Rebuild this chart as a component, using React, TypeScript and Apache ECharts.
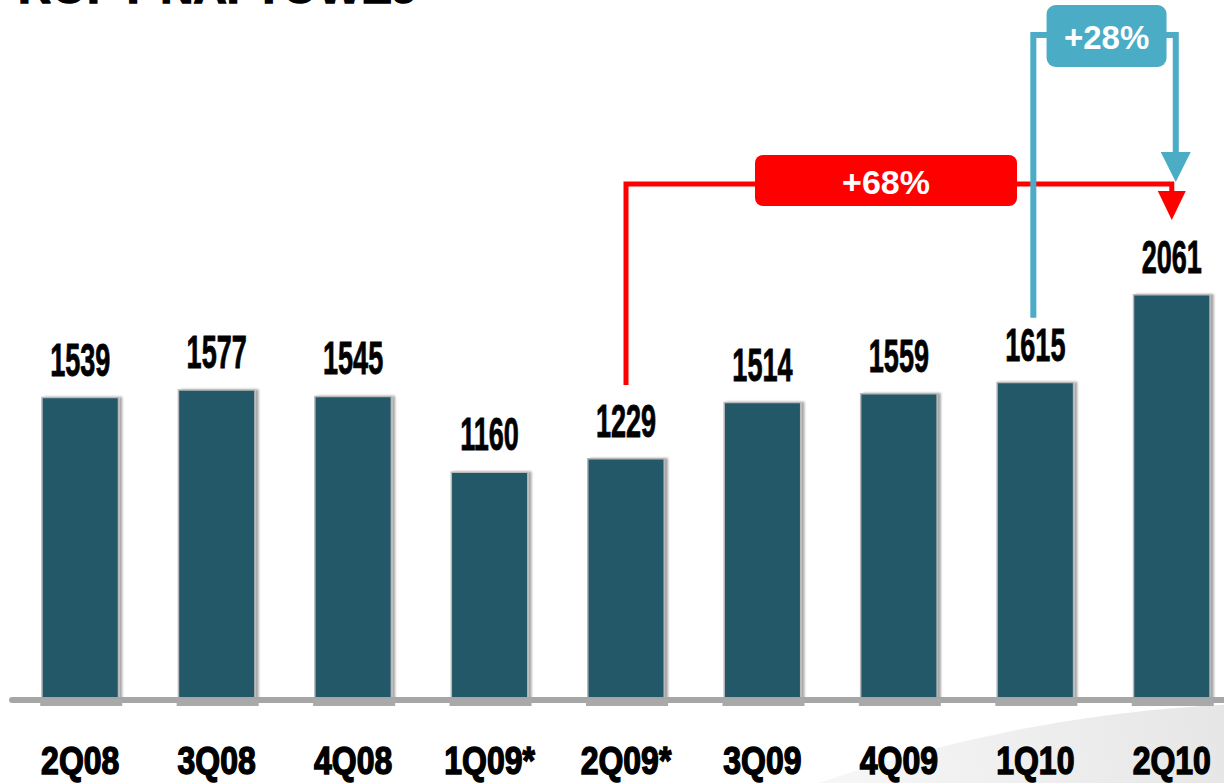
import React, { useEffect, useRef } from "react";
import * as echarts from "echarts";

const categories = ["2Q08", "3Q08", "4Q08", "1Q09*", "2Q09*", "3Q09", "4Q09", "1Q10", "2Q10"];
const values = [1539, 1577, 1545, 1160, 1229, 1514, 1559, 1615, 2061];
const titleText = "ROPY NAFTOWEJ";
const redLabel = "+68%";
const blueLabel = "+28%";
const redFrom = 4;
const blueFrom = 7;
const toIdx = 8;

const RED = "#ff0000";
const BLUE = "#4bacc6";
const BAR = "#225868";

export default function App() {
  const ref = useRef<HTMLDivElement>(null);
  useEffect(() => {
    const chart = echarts.init(ref.current!, null, { renderer: "svg" });
    chart.setOption({
      animation: false,
      backgroundColor: "#ffffff",
      grid: { left: 12, right: 0, top: 109, height: 591, containLabel: false },
      xAxis: {
        type: "category",
        data: categories,
        axisTick: { show: false },
        axisLine: { show: true, lineStyle: { color: "#a6a6a6", width: 6 } },
        axisLabel: { show: false },
        z: 3,
      },
      yAxis: { type: "value", min: 0, max: 3000, show: false, splitLine: { show: false } },
      series: [
        {
          type: "bar",
          data: values,
          barWidth: 78,
          z: 2,
          itemStyle: {
            color: BAR,
            borderColor: "#b8b8b8",
            borderWidth: 1.5,
            shadowColor: "rgba(0,0,0,0.35)",
            shadowOffsetX: 3,
            shadowBlur: 2,
          },
        },
        {
          type: "custom",
          data: values.map((v, i) => [i, 0]),
          z: 4,
          renderItem: (params: any, api: any) => {
            const p = api.coord([api.value(0), 0]);
            return {
              type: "rect",
              shape: { x: p[0] - 40, y: p[1] - 1, width: 82, height: 7 },
              style: { fill: "#a9a9a9" },
            };
          },
        },
        {
          type: "custom",
          data: values.map((v, i) => [i, v]),
          z: 5,
          renderItem: (params: any, api: any) => {
            const p = api.coord([api.value(0), api.value(1)]);
            return {
              type: "text",
              x: p[0],
              y: p[1] - 37,
              scaleX: 0.82,
              scaleY: 1.38,
              style: {
                text: String(api.value(1)),
                x: 0,
                y: 0,
                align: "center",
                verticalAlign: "middle",
                fill: "#000",
                stroke: "#000",
                lineWidth: 0.6,
                font: "bold 33px 'Liberation Sans'",
              },
            };
          },
        },
        {
          type: "custom",
          data: categories.map((c, i) => [i, 0]),
          z: 5,
          renderItem: (params: any, api: any) => {
            const p = api.coord([api.value(0), 0]);
            return {
              type: "text",
              x: p[0],
              y: p[1] + 61,
              scaleX: 0.8,
              scaleY: 0.97,
              style: {
                text: categories[params.dataIndex],
                x: 0,
                y: 0,
                align: "center",
                verticalAlign: "middle",
                lineHeight: 30,
                fill: "#000",
                stroke: "#000",
                lineWidth: 1.5,
                font: "bold 40px 'Liberation Sans'",
              },
            };
          },
        },
      ],
    });

    const px = (i: number, v: number) => chart.convertToPixel({ xAxisIndex: 0, yAxisIndex: 0 }, [i, v]) as number[];
    const a = px(redFrom, values[redFrom]);
    const b = px(blueFrom, values[blueFrom]);
    const c = px(toIdx, values[toIdx]);
    const redY = 184;
    const blueY = 35;
    const redMid = 886;
    const blueMid = (b[0] + c[0]) / 2 + 3;

    chart.setOption({
      graphic: [
        {
          type: "circle",
          z: -10,
          silent: true,
          shape: { cx: 1297, cy: 2171, r: 1468 },
          style: {
            fill: {
              type: "linear",
              global: true,
              x: 820,
              y: 783,
              x2: 1224,
              y2: 700,
              colorStops: [
                { offset: 0, color: "#f7f7f7" },
                { offset: 1, color: "#e6e6e6" },
              ],
            },
          },
        },
        {
          type: "text",
          x: 18,
          y: 10,
          style: {
            text: titleText,
            fill: "#000",
            stroke: "#000",
            lineWidth: 1.5,
            font: "bold 46px 'Liberation Sans'",
            align: "left",
            verticalAlign: "bottom",
          },
        },
        // red bracket
        {
          type: "polyline",
          z: 10,
          shape: { points: [[a[0], a[1] - 73], [a[0], redY], [c[0], redY], [c[0], redY + 8]] },
          style: { stroke: RED, lineWidth: 5, fill: null },
        },
        {
          type: "polygon",
          z: 10,
          shape: { points: [[c[0] - 14, redY + 7], [c[0] + 14, redY + 7], [c[0], redY + 36]] },
          style: { fill: RED },
        },
        {
          type: "rect",
          z: 11,
          shape: { x: redMid - 131, y: 155, width: 262, height: 51, r: 8 },
          style: { fill: RED },
        },
        {
          type: "text",
          z: 12,
          x: redMid,
          y: 182,
          style: {
            text: redLabel,
            fill: "#fff",
            font: "bold 34px 'Liberation Sans'",
            align: "center",
            verticalAlign: "middle",
          },
        },
        // blue bracket
        {
          type: "polyline",
          z: 13,
          shape: { points: [[b[0] - 2, b[1] - 64], [b[0] - 2, blueY], [c[0] + 4, blueY], [c[0] + 4, blueY + 118]] },
          style: { stroke: BLUE, lineWidth: 6, fill: null },
        },
        {
          type: "polygon",
          z: 13,
          shape: { points: [[c[0] - 11, blueY + 117], [c[0] + 19, blueY + 117], [c[0] + 4, blueY + 147]] },
          style: { fill: BLUE },
        },
        {
          type: "rect",
          z: 14,
          shape: { x: blueMid - 60, y: 5, width: 120, height: 62, r: 9 },
          style: { fill: BLUE },
        },
        {
          type: "text",
          z: 15,
          x: blueMid,
          y: 37,
          style: {
            text: blueLabel,
            fill: "#fff",
            font: "bold 33px 'Liberation Sans'",
            align: "center",
            verticalAlign: "middle",
          },
        },
      ],
    });
    return () => chart.dispose();
  }, []);
  return (
    <div
      ref={ref}
      style={{ position: "fixed", left: 0, top: 0, width: 1240, height: 783 }}
    />
  );
}
